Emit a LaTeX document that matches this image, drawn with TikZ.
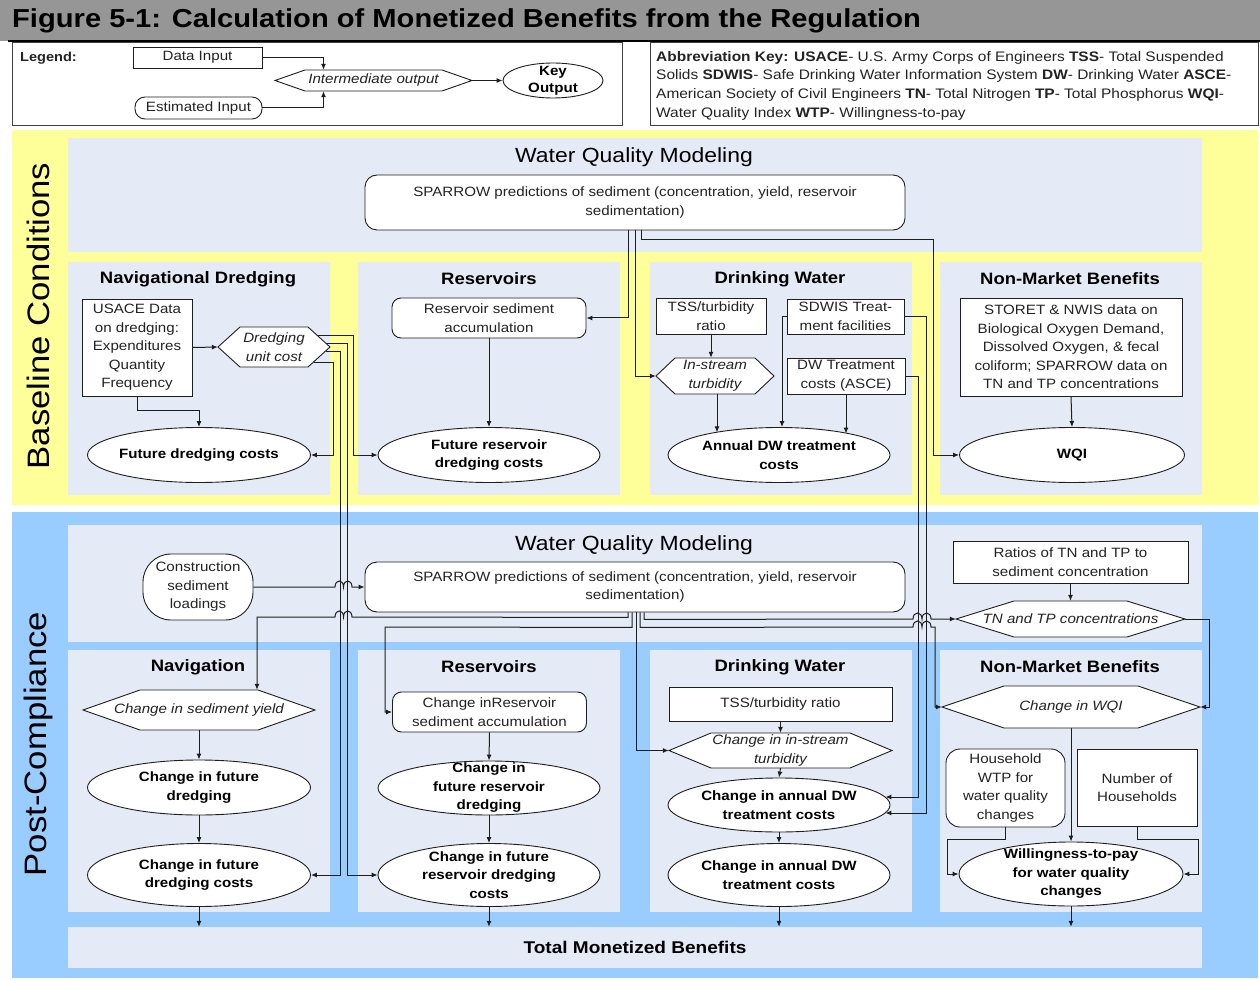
\documentclass[tikz,border=0pt]{standalone}
\usepackage{fontspec}
\setmainfont[FakeStretch=1.12]{Liberation Sans}
\usetikzlibrary{arrows.meta,calc,shapes.geometric}
\definecolor{ylw}{RGB}{255,255,153}
\definecolor{blu}{RGB}{153,204,255}
\definecolor{pnl}{RGB}{229,235,246}
\definecolor{ttl}{RGB}{150,150,150}
\definecolor{ln}{RGB}{30,30,30}
\definecolor{txt}{RGB}{35,35,35}
\newcommand{\fz}[2]{\fontsize{#1}{#2}\selectfont}
% name, cx, cy, w, h, slant, text
\newcommand{\hexnode}[7]{%
  \draw[shp] ({#2-#4/2},#3) -- ({#2-#4/2+#6},{#3-#5/2}) -- ({#2+#4/2-#6},{#3-#5/2}) -- ({#2+#4/2},#3) -- ({#2+#4/2-#6},{#3+#5/2}) -- ({#2-#4/2+#6},{#3+#5/2}) -- cycle;
  \node[hexn, minimum width=#4pt, minimum height=#5pt] (#1) at (#2,#3) {#7};}
% [extra], name, cx, cy, w, h, text
\newcommand{\ellnode}[7][]{%
  \node[ell, minimum width=#5pt, minimum height=#6pt] (#2) at (#3,#4) {};
  \node[elltxt,#1] (#2-t) at (#2) {#7};}
\tikzset{
  every node/.style={text=txt, align=center, inner sep=0pt, font=\fz{13.5}{18.5}},
  shp/.style={draw=ln, line width=0.9pt, fill=white},
  box/.style={shp, rectangle},
  rbox/.style={shp, rectangle, rounded corners=9pt},
  ell/.style={shp, ellipse},
  elltxt/.style={font=\fz{13.5}{18.5}\bfseries, text=black},
  hexn/.style={rectangle, font=\fz{13.5}{18.5}\itshape},
  arr/.style={draw=ln, line width=1pt, -{Latex[length=6pt,width=5pt]}},
  ptitle/.style={font=\fz{16.5}{20}\bfseries, text=black},
  wtitle/.style={font=\fz{20.5}{24}, text=black},
  vlabel/.style={rotate=90, font=\fz{31}{35}, text=black},
}
\begin{document}
\begin{tikzpicture}[x=1pt,y=-1pt]
\useasboundingbox (0,0) rectangle (1260,981);
\fill[white] (0,0) rectangle (1260,981);
% title bar
\fill[ttl] (0,0) rectangle (1260,41);
\draw[black, line width=1.6pt] (8,41) -- (1260,41);
\node[font=\fz{26}{30}\bfseries, text=black, anchor=west] (title) at (12,21) {Figure 5-1: Calculation of Monetized Benefits from the Regulation};
% legend and abbreviation boxes
\draw[black!75, line width=1pt, fill=white] (12,43) rectangle (622,126);
\draw[black!75, line width=1pt, fill=white] (650,43) rectangle (1258,126);
\node[font=\fz{13}{16}\bfseries, anchor=west] (leg) at (20,58) {Legend:};
\node[box, minimum width=129pt, minimum height=21pt] (di) at (197.5,57.5) {Data Input};
\node[rbox, rounded corners=10pt, minimum width=127pt, minimum height=22pt] (ei) at (198.5,108) {Estimated Input};
\hexnode{io}{373.5}{80.5}{197}{21}{30}{Intermediate output}
\ellnode[font=\fz{13.5}{17}\bfseries]{ko}{553}{80.5}{100}{35}{Key\\Output}
\draw[arr] (di.east) -| ($(io.north)+(-50,0)$);
\draw[arr] (ei.east) -| ($(io.south)+(-50,0)$);
\draw[arr] (io.east) -- (ko.west);
\node[anchor=north west, align=left, font=\fz{13.8}{18.7}] (abbr) at (656,51) {\textbf{Abbreviation Key: USACE}- U.S. Army Corps of Engineers \textbf{TSS}- Total Suspended\\Solids \textbf{SDWIS}- Safe Drinking Water Information System \textbf{DW}- Drinking Water \textbf{ASCE}-\\American Society of Civil Engineers \textbf{TN}- Total Nitrogen \textbf{TP}- Total Phosphorus \textbf{WQI}-\\Water Quality Index \textbf{WTP}- Willingness-to-pay};
% regions
\fill[ylw] (12,130) rectangle (1258,505);
\fill[blu] (12,512) rectangle (1258,978);
\fill[pnl] (68,138) rectangle (1202,252);
\foreach \a/\b in {68/330,358/620,650/912,940/1202}{
  \fill[pnl] (\a,262) rectangle (\b,495);
  \fill[pnl] (\a,650) rectangle (\b,912);
}
\fill[pnl] (68,525) rectangle (1202,642);
\node[vlabel] (blabel) at (38,316) {Baseline Conditions};
\node[vlabel] (plabel) at (38,744) {Post-Compliance};
% ---------- baseline ----------
\node[wtitle] (wqm1) at (634,157) {Water Quality Modeling};
\node[rbox, rounded corners=12pt, minimum width=540pt, minimum height=55pt] (sp1) at (635,202.5) {SPARROW predictions of sediment (concentration, yield, reservoir\\sedimentation)};
\node[ptitle] (t1) at (198,279) {Navigational Dredging};
\node[box, minimum width=110pt, minimum height=97pt] (usace) at (137,347.5) {USACE Data\\on dredging:\\Expenditures\\Quantity\\Frequency};
\hexnode{duc}{274}{347}{112}{40}{22}{Dredging\\unit cost}
\ellnode{fdc}{199}{455}{223}{55}{Future dredging costs}
\node[ptitle] (t2) at (489,279) {Reservoirs};
\node[rbox, minimum width=194pt, minimum height=40pt] (resacc) at (489,318) {Reservoir sediment\\accumulation};
\ellnode{fres}{489}{455}{222}{55}{Future reservoir\\dredging costs}
\node[ptitle] (t3) at (780,279) {Drinking Water};
\node[box, minimum width=110pt, minimum height=36pt] (tss) at (711,316) {TSS/turbidity\\ratio};
\node[box, minimum width=117pt, minimum height=35pt] (sdwis) at (845.5,316.5) {SDWIS Treat-\\ment facilities};
\hexnode{turb}{715}{376}{118}{36}{19}{In-stream\\turbidity}
\node[box, minimum width=118pt, minimum height=36pt] (dwt) at (846,376) {DW Treatment\\costs (ASCE)};
\ellnode{adw}{779}{455}{222}{55}{Annual DW treatment\\costs}
\node[ptitle] (t4) at (1070,279) {Non-Market Benefits};
\node[box, minimum width=222pt, minimum height=98pt] (storet) at (1071,347) {STORET \& NWIS data on\\Biological Oxygen Demand,\\Dissolved Oxygen, \& fecal\\coliform; SPARROW data on\\TN and TP concentrations};
\ellnode{wqi}{1072}{455}{225}{55}{WQI}
% baseline connectors
\draw[arr] ($(sp1.south)+(-7,0)$) |- (resacc.east);
\draw[arr] (sp1.south) |- (turb.west);
\draw[arr] ($(sp1.south)+(6,0)$) |- (933,240) |- (wqi.west);
\draw[arr] (usace.east) -- (duc.west);
\draw[arr] (usace.south) -- ++(0,14) -| (fdc.north);
\draw[arr] ($(duc.east)+(-13.2,-12)$) -- ($(duc.east)+(23,-12)$) |- (fres.west);
\draw[arr] ($(duc.east)+(-16.5,15)$) -- ($(duc.east)+(3,15)$) |- (fdc.east);
\draw[arr] (resacc.south) -- (fres.north);
\draw[arr] (tss.south) -- (tss.south |- turb.north);
\draw[arr] ($(turb.south)+(2,0)$) -- ++(0,38.2);
\draw[arr] (dwt.south) -- ++(0,39.1);
\draw[arr] (sdwis.west) -| ($(adw.north)+(3,0)$);
\draw[arr] (storet.south) -- (wqi.north);
% ---------- post-compliance ----------
\node[wtitle] (wqm2) at (634,545) {Water Quality Modeling};
\node[rbox, rounded corners=28pt, minimum width=110pt, minimum height=66pt] (cons) at (198,587) {Construction\\sediment\\loadings};
\node[rbox, rounded corners=12pt, minimum width=540pt, minimum height=50pt] (sp2) at (635,587) {SPARROW predictions of sediment (concentration, yield, reservoir\\sedimentation)};
\node[box, minimum width=235pt, minimum height=42pt] (ratio) at (1070.5,562) {Ratios of TN and TP to\\sediment concentration};
\hexnode{tntp}{1070.5}{619}{229}{36}{58}{TN and TP concentrations}
\node[ptitle] (t5) at (198,667) {Navigation};
\hexnode{cyield}{199}{710}{232}{40}{57}{Change in sediment yield}
\ellnode{cfd}{199}{787.5}{223}{55}{Change in future\\dredging}
\ellnode{cfdc}{199}{875}{223}{63}{Change in future\\dredging costs}
\node[ptitle] (t6) at (489,667) {Reservoirs};
\node[rbox, minimum width=194pt, minimum height=40pt] (cres) at (489.5,712) {Change inReservoir\\sediment accumulation};
\ellnode{cfr}{489}{788}{222}{54}{Change in\\future reservoir\\dredging}
\ellnode{cfrdc}{489}{875}{222}{63}{Change in future\\reservoir dredging\\costs}
\node[ptitle] (t7) at (780,667) {Drinking Water};
\node[box, minimum width=223pt, minimum height=34pt] (tss2) at (780.5,704) {TSS/turbidity ratio};
\hexnode{citurb}{780.5}{750.5}{223}{35}{42}{Change in in-stream\\turbidity}
\ellnode{cadw1}{779}{805}{222}{54}{Change in annual DW\\treatment costs}
\ellnode{cadw2}{779}{875}{222}{63}{Change in annual DW\\treatment costs}
\node[ptitle] (t8) at (1070,667) {Non-Market Benefits};
\hexnode{cwqi}{1071}{707}{258}{42}{62}{Change in WQI}
\node[rbox, rounded corners=14pt, minimum width=119pt, minimum height=78pt] (hh) at (1005.5,788) {Household\\WTP for\\water quality\\changes};
\node[box, minimum width=120pt, minimum height=77pt] (noh) at (1137,787.5) {Number of\\Households};
\ellnode{wtp}{1071}{874}{224}{64}{Willingness-to-pay\\for water quality\\changes}
\node[fill=pnl, minimum width=1134pt, minimum height=41pt, font=\fz{17}{20}\bfseries, text=black] (tot) at (635,947.5) {Total Monetized Benefits};
% connectors from baseline into post
\draw[arr] ($(duc.east)+(-4.4,-4)$) -- ($(duc.east)+(17,-4)$) |- (cfrdc.west);
\draw[arr] ($(duc.east)+(-4.4,4)$) -- ($(duc.east)+(10,4)$) |- (cfdc.east);
\draw[arr] (sdwis.east) -- ++(22.5,0) |- ($(cadw1.east)+(-5,8)$);
\draw[arr] (dwt.east) -- ++(13,0) |- ($(cadw1.east)+(-5,-8)$);
% post connectors
\draw[arr] (cons.east) -- (335,587) .. controls (335,579) and (343.5,579) .. (343.5,587) .. controls (343.5,579) and (352,579) .. (352,587) -- (sp2.west);
\draw[arr] ($(sp2.south)+(-7,0)$) -- ++(0,5) -- (352,617) .. controls (352,609) and (343.5,609) .. (343.5,617) .. controls (343.5,609) and (335,609) .. (335,617) -| ($(cyield.north)+(58,0)$);
\draw[arr] ($(sp2.south)+(-3,0)$) -- ++(0,15) -- (385,627) |- (cres.west);
\draw[arr] ($(sp2.south)+(1,0)$) |- (citurb.west);
\draw[arr] ($(sp2.south)+(5,0)$) -- ++(0,15) -- (913,627) .. controls (913,619) and (922,619) .. (922,627) .. controls (922,619) and (931,619) .. (931,627) -- (935,627) |- (cwqi.west);
\draw[arr] ($(sp2.south)+(9,0)$) -- ++(0,7) -- (913,619) .. controls (913,611) and (922,611) .. (922,619) .. controls (922,611) and (931,611) .. (931,619) -- (tntp.west);
\draw[arr] (ratio.south) -- (tntp.north);
\draw[arr] (tntp.east) -- ++(24,0) |- (cwqi.east);
\draw[arr] (cyield.south) -- (cfd.north);
\draw[arr] (cfd.south) -- (cfdc.north);
\draw[arr] (cres.south) -- (cfr.north);
\draw[arr] (cfr.south) -- (cfrdc.north);
\draw[arr] (tss2.south) -- (citurb.north);
\draw[arr] (citurb.south) -- (cadw1.north);
\draw[arr] (cadw1.south) -- (cadw2.north);
\draw[arr] (cwqi.south) -- (wtp.north);
\draw[arr] (hh.south) -- ++(0,12) -| ($(wtp.west)+(-11,0)$) -- (wtp.west);
\draw[arr] (noh.south) -- ++(0,13) -| ($(wtp.east)+(15,0)$) -- (wtp.east);
\draw[arr] (cfdc.south) -- (cfdc.south |- tot.north);
\draw[arr] (cfrdc.south) -- (cfrdc.south |- tot.north);
\draw[arr] (cadw2.south) -- (cadw2.south |- tot.north);
\draw[arr] (wtp.south) -- (wtp.south |- tot.north);
\end{tikzpicture}
\end{document}
